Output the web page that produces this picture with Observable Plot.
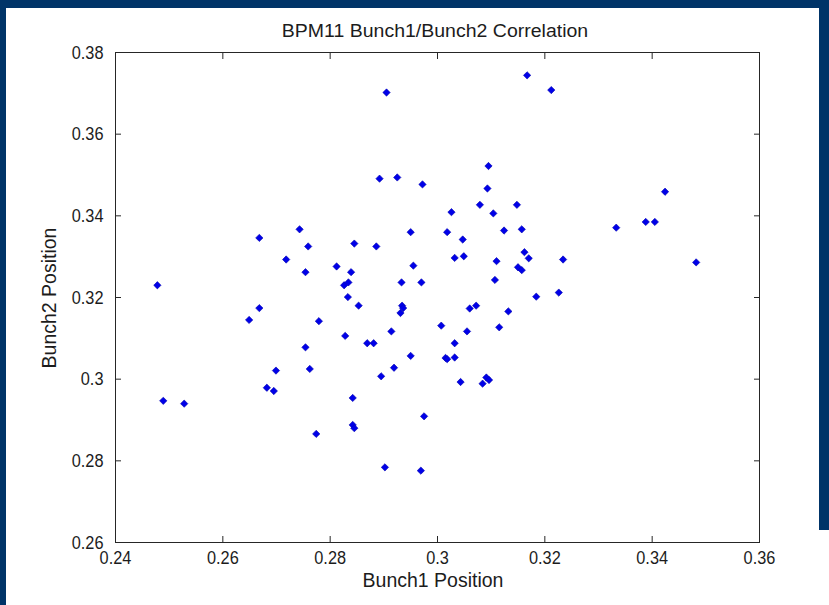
<!DOCTYPE html>
<html>
<head>
<meta charset="utf-8">
<script src="https://cdn.jsdelivr.net/npm/d3@7"></script>
<script src="https://cdn.jsdelivr.net/npm/@observablehq/plot@0.6"></script>
<style>
  html, body { margin: 0; padding: 0; }
  body { width: 829px; height: 605px; position: relative; overflow: hidden; background: #ffffff;
         font-family: "Liberation Sans", Arial, sans-serif; color: #1c1c1c; }
  .band { position: absolute; background: #003468; }
  #chart { position: absolute; left: 0; top: 0; }
  .txt { position: absolute; white-space: nowrap; font-size: 19.5px; line-height: 1; }
  #title { left: 435px; top: 21px; transform: translateX(-50%) scaleY(0.95); }
  #xlabel { left: 433px; top: 571px; transform: translateX(-50%); }
  #ylabel { left: 50px; top: 298px; transform: translate(-50%, -50%) rotate(-90deg); }
</style>
</head>
<body>
<div class="band" style="left:0;top:0;width:829px;height:8px"></div>
<div class="band" style="left:0;top:0;width:6px;height:605px"></div>
<div class="band" style="left:819px;top:0;width:10px;height:530px"></div>
<div id="chart"></div>
<div class="txt" id="title">BPM11 Bunch1/Bunch2 Correlation</div>
<div class="txt" id="xlabel">Bunch1 Position</div>
<div class="txt" id="ylabel">Bunch2 Position</div>
<script>
// Bunch1 / Bunch2 beam positions measured at BPM11
const bunch1 = [
  0.2905, 0.2892, 0.2925, 0.2972, 0.2668, 0.2743, 0.2759, 0.2718, 0.2754, 0.2812,
  0.2845, 0.2886, 0.2950, 0.2955, 0.2839, 0.2826, 0.2834, 0.2933, 0.2970, 0.2833,
  0.2478, 0.3167, 0.3212, 0.3095, 0.3093, 0.3079, 0.3148, 0.3026, 0.3104, 0.3018,
  0.3124, 0.3157, 0.3047, 0.3032, 0.3049, 0.3110, 0.3162, 0.3170, 0.3234, 0.3150,
  0.3157, 0.3107, 0.3184, 0.3226, 0.3333, 0.3388, 0.3405, 0.3424, 0.3482, 0.2853,
  0.2668, 0.2649, 0.2779, 0.2934, 0.2936, 0.2931, 0.2914, 0.2828, 0.2869, 0.2881,
  0.2754, 0.2950, 0.2699, 0.2762, 0.2919, 0.2895, 0.2682, 0.2695, 0.2842, 0.2489,
  0.2528, 0.2975, 0.2842, 0.2845, 0.2774, 0.2902, 0.2969, 0.3060, 0.3072, 0.3132,
  0.3007, 0.3055, 0.3115, 0.3032, 0.3015, 0.3018, 0.3032, 0.3043, 0.3084, 0.3091,
  0.3096
];
const bunch2 = [
  0.3702, 0.3491, 0.3494, 0.3477, 0.3346, 0.3367, 0.3325, 0.3293, 0.3262, 0.3276,
  0.3332, 0.3325, 0.3360, 0.3278, 0.3262, 0.3230, 0.3237, 0.3237, 0.3237, 0.3201,
  0.3230, 0.3744, 0.3708, 0.3522, 0.3467, 0.3427, 0.3427, 0.3409, 0.3406, 0.3360,
  0.3364, 0.3367, 0.3342, 0.3297, 0.3301, 0.3289, 0.3311, 0.3296, 0.3293, 0.3274,
  0.3267, 0.3243, 0.3202, 0.3212, 0.3371, 0.3385, 0.3385, 0.3459, 0.3286, 0.3180,
  0.3174, 0.3145, 0.3142, 0.3180, 0.3174, 0.3162, 0.3117, 0.3106, 0.3088, 0.3088,
  0.3078, 0.3057, 0.3021, 0.3025, 0.3028, 0.3007, 0.2979, 0.2971, 0.2954, 0.2947,
  0.2940, 0.2909, 0.2888, 0.2880, 0.2866, 0.2784, 0.2776, 0.3173, 0.3180, 0.3166,
  0.3131, 0.3117, 0.3127, 0.3088, 0.3052, 0.3049, 0.3053, 0.2993, 0.2989, 0.3004,
  0.2998
];

// Axis ticks and their labels
const xTicks = [0.24, 0.26, 0.28, 0.30, 0.32, 0.34, 0.36];
const xTickLabels = ["0.24", "0.26", "0.28", "0.3", "0.32", "0.34", "0.36"];
const yTicks = [0.26, 0.28, 0.30, 0.32, 0.34, 0.36, 0.38];
const yTickLabels = ["0.26", "0.28", "0.3", "0.32", "0.34", "0.36", "0.38"];

const points = bunch1.map((b1, i) => ({b1, b2: bunch2[i]}));
const xFmt = new Map(xTicks.map((t, i) => [t, xTickLabels[i]]));
const yFmt = new Map(yTicks.map((t, i) => [t, yTickLabels[i]]));

const ink = "#262626";
const chart = Plot.plot({
  width: 829,
  height: 605,
  marginLeft: 115,
  marginRight: 70,
  marginTop: 52,
  marginBottom: 63,
  x: {domain: [0.24, 0.36]},
  y: {domain: [0.26, 0.38]},
  style: {background: "transparent", fontFamily: "'Liberation Sans', Arial, sans-serif", color: "#1c1c1c"},
  marks: [
    // inward ticks on all four sides, labels only on bottom and left
    Plot.axisX(xTicks, {anchor: "bottom", tickSize: -6, tickPadding: 14, tickFormat: d => xFmt.get(d), fontSize: 19, label: null, stroke: ink}),
    Plot.axisX(xTicks, {anchor: "top", tickSize: -6, tickFormat: () => "", label: null, stroke: ink}),
    Plot.axisY(yTicks, {anchor: "left", tickSize: -6, tickPadding: 18, tickFormat: d => yFmt.get(d), fontSize: 19, label: null, stroke: ink}),
    Plot.axisY(yTicks, {anchor: "right", tickSize: -6, tickFormat: () => "", label: null, stroke: ink}),
    Plot.frame({stroke: ink, strokeWidth: 1}),
    Plot.dot(points, {x: "b1", y: "b2", symbol: "diamond2", r: 3.3, fill: "#0000e8", stroke: "#0000b0", strokeWidth: 0.6})
  ]
});

// narrow the tick label glyphs a little
chart.querySelectorAll("g[aria-label$='tick label'] text").forEach(t => {
  const tr = t.getAttribute("transform") || "";
  t.setAttribute("transform", tr + " scale(0.86,1)");
});
document.getElementById("chart").appendChild(chart);
</script>
</body>
</html>
